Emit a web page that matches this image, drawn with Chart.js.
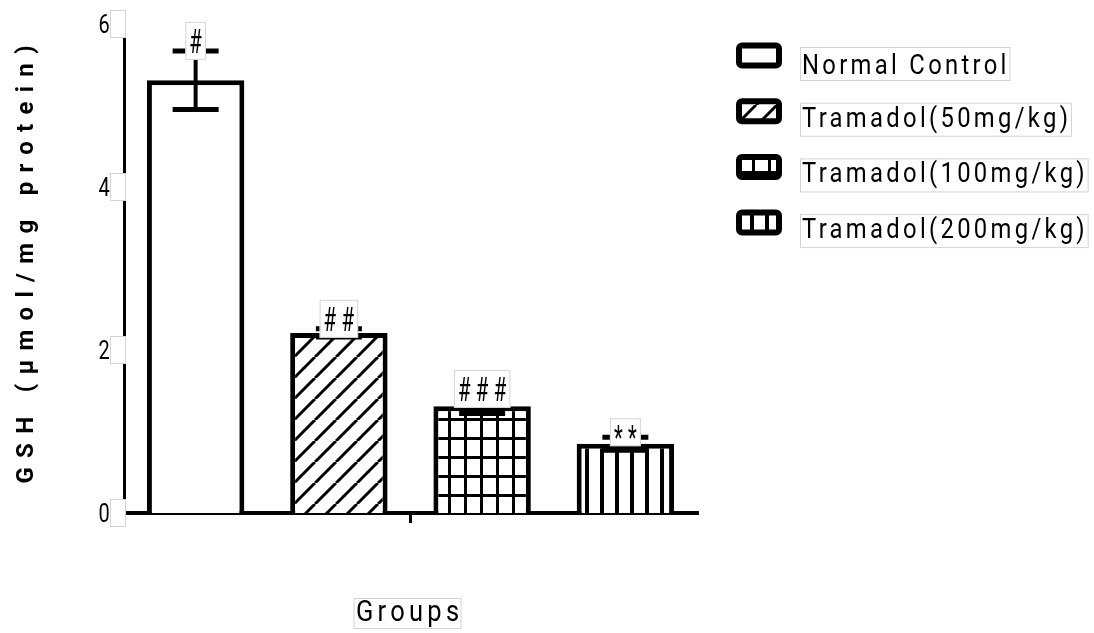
<!DOCTYPE html>
<html>
<head>
<meta charset="utf-8">
<script src="https://cdn.jsdelivr.net/npm/chart.js@4"></script>
<style>
  html, body { margin: 0; padding: 0; background: #fff; }
</style>
</head>
<body>
<canvas id="gshChart" width="1094" height="633"></canvas>
<script>
// GSH levels per group
const groups = ['Normal Control', 'Tramadol(50mg/kg)', 'Tramadol(100mg/kg)', 'Tramadol(200mg/kg)'];
const gshMean = [5.31, 2.21, 1.31, 0.85];
const gshSem = [0.36, 0.05, 0.09, 0.08];
const sigMarks = ['#', '##', '###', '**'];
const yTicks = [0, 2, 4, 6];
const fillKinds = ['plain', 'hatch', 'grid', 'stripes'];

const FONT = 'Roboto, "Liberation Sans", sans-serif';

function makePattern(kind) {
    if (kind === 'plain') return '#ffffff';
    const c = document.createElement('canvas');
    const g = c.getContext('2d');
    if (kind === 'hatch') {
        c.width = 21; c.height = 21;
        g.fillStyle = '#fff'; g.fillRect(0, 0, 21, 21);
        g.strokeStyle = '#000'; g.lineWidth = 3;
        [-21, 0, 21].forEach(k => {
            g.beginPath(); g.moveTo(k, 21); g.lineTo(k + 21, 0); g.stroke();
        });
    } else if (kind === 'grid') {
        c.width = 16; c.height = 19;
        g.fillStyle = '#fff'; g.fillRect(0, 0, 16, 19);
        g.fillStyle = '#000';
        g.fillRect(0, 0, 3, 19);
        g.fillRect(0, 0, 16, 3);
    } else {
        c.width = 15; c.height = 4;
        g.fillStyle = '#fff'; g.fillRect(0, 0, 15, 4);
        g.fillStyle = '#000'; g.fillRect(0, 0, 4, 4);
    }
    return g.createPattern(c, 'repeat');
}
const fills = fillKinds.map(makePattern);

// draws text with letter spacing and horizontal squeeze, returns its box
function spacedText(ctx, str, x, y, o) {
    ctx.save();
    ctx.font = (o.weight || 'normal') + ' ' + o.size + 'px ' + FONT;
    ctx.letterSpacing = (o.gap || 0) + 'px';
    ctx.textBaseline = 'alphabetic';
    ctx.textAlign = 'left';
    const m = ctx.measureText(str);
    const sx = o.sx || 1;
    const w = (m.width - (o.gap || 0)) * sx;
    const asc = m.actualBoundingBoxAscent, desc = m.actualBoundingBoxDescent;
    let left = o.align === 'left' ? x : x - w / 2;
    // y is the vertical centre of the inked glyphs
    const base = y + (asc - desc) / 2;
    ctx.translate(left, base);
    ctx.scale(sx, 1);
    ctx.fillStyle = '#000';
    ctx.fillText(str, 0, 0);
    ctx.restore();
    return { left: left, right: left + w, top: base - asc, bottom: base + desc, w: w };
}

function textSize(ctx, str, o) {
    ctx.save();
    ctx.font = (o.weight || 'normal') + ' ' + o.size + 'px ' + FONT;
    ctx.letterSpacing = (o.gap || 0) + 'px';
    const m = ctx.measureText(str);
    ctx.restore();
    return {
        w: (m.width - (o.gap || 0)) * (o.sx || 1),
        h: m.actualBoundingBoxAscent + m.actualBoundingBoxDescent
    };
}

function faintBox(ctx, x, y, w, h) {
    ctx.save();
    ctx.fillStyle = '#fff';
    ctx.fillRect(x, y, w, h);
    ctx.strokeStyle = '#d4d4d4';
    ctx.lineWidth = 1;
    ctx.strokeRect(x + 0.5, y + 0.5, w - 1, h - 1);
    ctx.restore();
}

const markFont = { size: 34, gap: 9, sx: 0.6 };
const legendFont = { size: 28, gap: 3.9, sx: 0.85 };

const decorations = {
    id: 'decorations',
    afterDatasetsDraw(chart) {
        const ctx = chart.ctx;
        const y = chart.scales.y;
        chart.data.datasets.forEach((ds, i) => {
            const bar = chart.getDatasetMeta(i).data[0];
            const top = y.getPixelForValue(gshMean[i] + gshSem[i]);
            const bot = y.getPixelForValue(gshMean[i] - gshSem[i]);
            ctx.save();
            ctx.strokeStyle = '#000';
            ctx.lineWidth = 4;
            ctx.beginPath(); ctx.moveTo(bar.x, top); ctx.lineTo(bar.x, bot); ctx.stroke();
            ctx.lineWidth = 5;
            ctx.beginPath();
            ctx.moveTo(bar.x - 23, top); ctx.lineTo(bar.x + 23, top);
            ctx.moveTo(bar.x - 23, bot); ctx.lineTo(bar.x + 23, bot);
            ctx.stroke();
            ctx.restore();

            // significance mark in a small white box sitting on the whisker
            const t = textSize(ctx, sigMarks[i], markFont);
            const bw = t.w + 8, bh = t.h + 14;
            const bBottom = top + 9;
            faintBox(ctx, bar.x - bw / 2, bBottom - bh, bw, bh);
            spacedText(ctx, sigMarks[i], bar.x, bBottom - bh / 2, markFont);
        });
    },
    afterDraw(chart) {
        const ctx = chart.ctx;
        const y = chart.scales.y;
        const area = chart.chartArea;

        // y tick labels with their little white boxes
        yTicks.forEach(v => {
            const py = y.getPixelForValue(v);
            faintBox(ctx, area.left - 14, py - 14, 16, 28);
            spacedText(ctx, String(v), area.left - 20, py - 1, { size: 25, sx: 0.8 });
        });

        // y axis title
        ctx.save();
        ctx.translate(26, (area.top + area.bottom) / 2 - 4);
        ctx.rotate(-Math.PI / 2);
        spacedText(ctx, 'GSH (\u00b5mol/mg protein)', 0, 0, { size: 24, weight: 'bold', gap: 9.3 });
        ctx.restore();

        // x axis title
        const cx = (area.left + area.right) / 2 - 3;
        faintBox(ctx, cx - 54, 598, 108, 31);
        spacedText(ctx, 'Groups', cx, 613, { size: 30, gap: 5, sx: 0.85 });

        // legend
        groups.forEach((name, i) => {
            const top = 43 + i * 55.7;
            ctx.save();
            ctx.beginPath();
            ctx.roundRect(739, top + 2.5, 40, 20, 3);
            ctx.fillStyle = fills[i];
            ctx.fill();
            ctx.lineWidth = 6;
            ctx.strokeStyle = '#000';
            ctx.stroke();
            ctx.restore();
            const t = textSize(ctx, name, legendFont);
            faintBox(ctx, 800, top + 4, t.w + 6, 34);
            spacedText(ctx, name, 802, top + 20, Object.assign({ align: 'left' }, legendFont));
        });
    }
};

const ctx = document.getElementById('gshChart').getContext('2d');
new Chart(ctx, {
    type: 'bar',
    data: {
        labels: ['Groups'],
        datasets: groups.map((name, i) => ({
            label: name,
            data: [gshMean[i]],
            backgroundColor: fills[i],
            borderColor: '#000',
            borderWidth: 5,
            barPercentage: 0.68,
            categoryPercentage: 1
        }))
    },
    options: {
        responsive: false,
        animation: false,
        devicePixelRatio: 1,
        layout: { padding: { left: 0, top: 24, right: 397, bottom: 0 } },
        plugins: { legend: { display: false }, tooltip: { enabled: false } },
        scales: {
            y: {
                min: 0, max: 6,
                ticks: { stepSize: 2, display: false },
                grid: { display: false },
                border: { display: true, color: '#000', width: 3 },
                afterFit: s => { s.width = 124; }
            },
            x: {
                ticks: { callback: () => '', font: { size: 1 } },
                grid: { display: true, drawOnChartArea: false, drawTicks: true, tickLength: 10, color: '#000', lineWidth: 3, offset: false },
                border: { display: true, color: '#000', width: 4 },
                afterFit: s => { s.height = 120; }
            }
        }
    },
    plugins: [decorations]
});
</script>
</body>
</html>
